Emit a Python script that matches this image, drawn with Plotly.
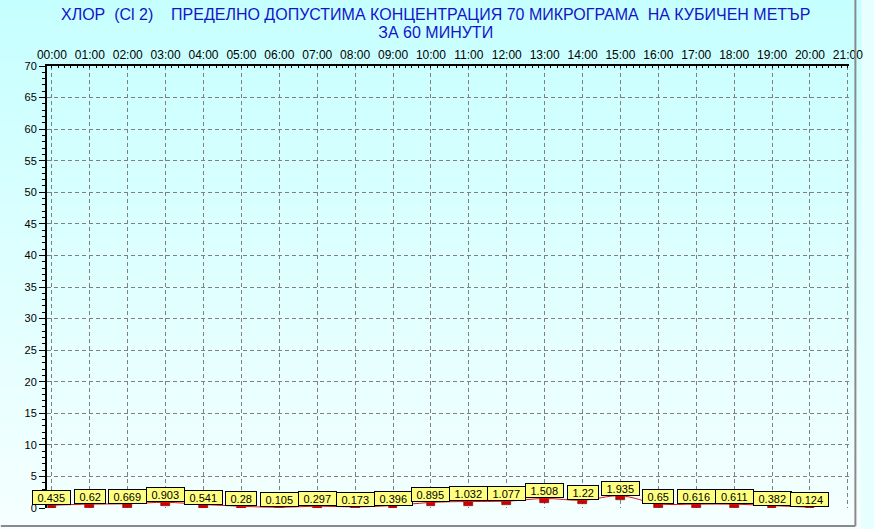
import plotly.graph_objects as go

# ---- data ----
hours = list(range(21))
hour_labels = [f"{h:02d}:00" for h in range(22)]
values = [0.435, 0.62, 0.669, 0.903, 0.541, 0.28, 0.105, 0.297, 0.173, 0.396,
          0.895, 1.032, 1.077, 1.508, 1.22, 1.935, 0.65, 0.616, 0.611, 0.382, 0.124]
value_labels = [f"{v:g}" for v in values]
y_ticks = list(range(0, 75, 5))

title_line1 = "ХЛОР\u00a0\u00a0(Cl 2)\u00a0\u00a0\u00a0\u00a0ПРЕДЕЛНО ДОПУСТИМА КОНЦЕНТРАЦИЯ 70 МИКРОГРАМА\u00a0\u00a0НА КУБИЧЕН МЕТЪР"
title_line2 = "ЗА 60 МИНУТИ"

# ---- geometry ----
W, H = 874, 529
L, R, T, B = 47, 10.5, 66, 21
pw, ph = W - L - R, H - T - B

def px_x(p):  # pixel x -> paper x
    return (p - L) / pw

def px_y(p):  # pixel y (from top) -> paper y
    return (H - B - p) / ph

FONT = "Arial, Liberation Sans, sans-serif"

fig = go.Figure()

# background vertical gradient (cyan -> near white)
shapes = []
n = 60
top_c = (198, 255, 255)
bot_c = (246, 255, 255)
for i in range(n):
    p0 = H * i / n
    p1 = H * (i + 1) / n + 0.6
    t = (i + 0.5) / n
    c = tuple(round(top_c[k] + (bot_c[k] - top_c[k]) * t) for k in range(3))
    shapes.append(dict(type="rect", xref="paper", yref="paper", layer="below",
                       x0=px_x(-2), x1=px_x(W + 2), y0=px_y(p1), y1=px_y(p0),
                       fillcolor=f"rgb{c}", line=dict(width=0)))
# grey frame on bottom and right
shapes.append(dict(type="line", xref="paper", yref="paper", layer="above",
                   x0=px_x(0), x1=px_x(870), y0=px_y(526), y1=px_y(526),
                   line=dict(color="#8a8a8a", width=2)))
shapes.append(dict(type="line", xref="paper", yref="paper", layer="above",
                   x0=px_x(870), x1=px_x(870), y0=px_y(526), y1=px_y(0),
                   line=dict(color="#8a8a8a", width=2)))

# smooth red line
fig.add_trace(go.Scatter(x=hours, y=values, mode="lines",
                         line=dict(color="#e01010", width=1, shape="spline"),
                         hoverinfo="skip", showlegend=False))
# small red markers (bars hanging from the value)
mark_h = 0.65
fig.add_trace(go.Bar(x=hours, y=[mark_h] * len(values),
                     base=[v - mark_h for v in values], width=0.23,
                     marker=dict(color="#cc0000", line=dict(color="#700000", width=0.6)),
                     hoverinfo="skip", showlegend=False))

# value labels
def text_w(s, size=11):
    w = 0
    for ch in s:
        w += 0.278 * size if ch == "." else 0.556 * size
    return w

annotations = []
for h, v, s in zip(hours, values, value_labels):
    annotations.append(dict(x=h, y=v, xref="x", yref="y", text=s, showarrow=False,
                            xanchor="center", yanchor="bottom",
                            width=text_w(s) + 9, height=13,
                            bgcolor="#ffff80", bordercolor="#000000",
                            borderwidth=1, borderpad=0,
                            font=dict(family=FONT, size=11, color="#000000")))

# two-line title: base font controls the line spacing, spans set glyph size
title_text = (f"<span style='font-size:16px'>{title_line1}</span><br>"
              f"<span style='font-size:16px'>{title_line2}</span>")
annotations.append(dict(x=px_x(443), y=px_y(24), xref="paper", yref="paper",
                        text=title_text, showarrow=False, xanchor="center", yanchor="middle",
                        align="center",
                        font=dict(family=FONT, size=13.8, color="#1414c8")))

fig.update_layout(
    width=W, height=H,
    margin=dict(l=L, r=R, t=T, b=B, pad=0),
    paper_bgcolor="#e8ffff",
    plot_bgcolor="rgba(0,0,0,0)",
    shapes=shapes,
    annotations=annotations,
    bargap=0,
    showlegend=False,
    font=dict(family=FONT, size=12, color="#000000"),
)

fig.update_xaxes(
    range=[-0.13, 21.03], side="top",
    tickmode="array", tickvals=list(range(22)), ticktext=hour_labels,
    tickfont=dict(family=FONT, size=12, color="#000000"),
    ticks="", ticklen=0, ticklabeloverflow="allow",
    showline=True, linecolor="#000000", linewidth=2,
    showgrid=True, gridcolor="#808080", gridwidth=1, griddash="4px,3px",
    zeroline=False,
    minor=dict(dtick=1 / 6, ticks="inside", ticklen=2, tickcolor="#000000", showgrid=False),
    fixedrange=True,
)
fig.update_yaxes(
    range=[0, 70],
    tickmode="array", tickvals=y_ticks,
    tickfont=dict(family=FONT, size=11, color="#000000"),
    ticks="outside", ticklen=6, tickcolor="#000000",
    showline=True, linecolor="#000000", linewidth=2,
    showgrid=True, gridcolor="#808080", gridwidth=1, griddash="4px,3px",
    zeroline=False,
    minor=dict(dtick=1, ticks="outside", ticklen=3, tickcolor="#000000", showgrid=False),
    fixedrange=True,
)

fig.write_html("out.html", config={"displayModeBar": False},
               post_script="document.body.style.margin='0';document.body.style.padding='0';"
                           "document.body.style.overflow='hidden';")
